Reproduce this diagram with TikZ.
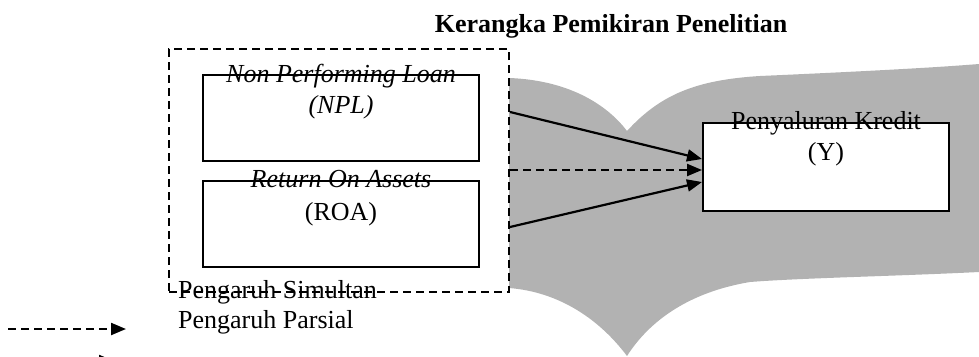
\documentclass[tikz,border=0pt]{standalone}
\usepackage{fontspec}
\setmainfont{Liberation Serif}
\usetikzlibrary{arrows.meta}
\definecolor{greyfill}{RGB}{178,178,178}
\tikzset{
  txt/.style={font=\fontsize{26}{31}\selectfont, inner sep=0pt, anchor=base},
  varbox/.style={draw, line width=2pt, fill=white, inner sep=0pt},
  grpbox/.style={draw, line width=2pt, dash pattern=on 8pt off 5pt, fill=white, inner sep=0pt},
  arr/.style={line width=2.2pt, -{Triangle[length=15pt,width=12pt]}},
  darr/.style={arr, dash pattern=on 8pt off 5pt},
}
\begin{document}
\begin{tikzpicture}[x=1pt,y=-1pt]
\useasboundingbox (0,0) rectangle (979,356);
\clip (0,0) rectangle (979,356);
% gray background shape
\fill[greyfill] (509,78) .. controls (565,80) and (605,102) .. (627,131)
  .. controls (660,95) and (695,80) .. (760,76)
  .. controls (850,72) and (930,68) .. (979,64)
  -- (979,272)
  .. controls (900,276) and (800,278) .. (750,282)
  .. controls (690,292) and (650,320) .. (627,356)
  .. controls (600,320) and (560,292) .. (509,288) -- cycle;
% title
\node[txt, font=\fontsize{26}{31}\selectfont\bfseries] (title) at (611,32) {Kerangka Pemikiran Penelitian};
% group box
\node[grpbox, minimum width=340pt, minimum height=243pt] (grp) at (339,170.5) {};
% variable boxes
\node[varbox, minimum width=276pt, minimum height=86pt] (npl) at (341,118) {};
\node[varbox, minimum width=276pt, minimum height=86pt] (roa) at (341,224) {};
\node[varbox, minimum width=246pt, minimum height=88pt] (y) at (826,167) {};
% texts
\node[txt] (npl1) at (341,82) {\textit{Non Performing Loan}};
\node[txt] (npl2) at (341,113) {\textit{(NPL)}};
\node[txt] (roa1) at (341,187) {\textit{Return On Assets}};
\node[txt] (roa2) at (341,220) {(ROA)};
\node[txt] (y1) at (826,129) {Penyaluran Kredit};
\node[txt] (y2) at (826,160) {(Y)};
\node[txt, anchor=base west] (sim) at (178,298) {Pengaruh Simultan};
\node[txt, anchor=base west] (par) at (178,328) {Pengaruh Parsial};
% connectors
\coordinate (a1) at (grp.east |- 0,112);
\coordinate (a2) at (grp.east |- 0,170);
\coordinate (a3) at (grp.east |- 0,227);
\coordinate (b1) at ([yshift=8pt]y.west);
\coordinate (b2) at ([yshift=-3pt]y.west);
\coordinate (b3) at ([yshift=-15pt]y.west);
\draw[arr] (a1) -- (b1);
\draw[darr] (a2) -- (b2);
\draw[arr] (a3) -- (b3);
% legend
\coordinate (l1s) at (8,329);
\coordinate (l1e) at (126,329);
\coordinate (l2s) at (8,361);
\coordinate (l2e) at (114,361);
\draw[darr] (l1s) -- (l1e);
\draw[arr] (l2s) -- (l2e);
\end{tikzpicture}
\end{document}
